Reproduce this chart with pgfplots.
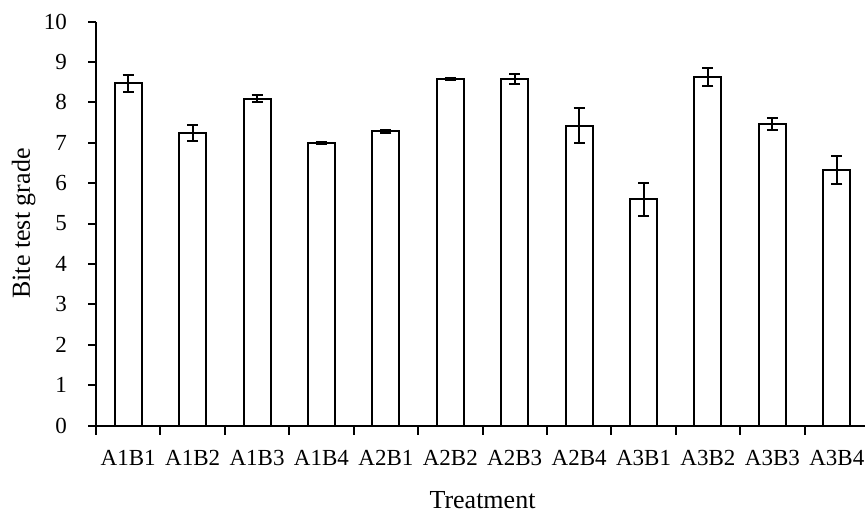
\documentclass[border=0pt]{standalone}
\usepackage{pgfplots}
\pgfplotsset{compat=1.18}
\usepackage{pgfplotstable}
\usepackage{fontspec}
\setmainfont{Liberation Serif}

\pgfplotstableread{
x  y     e
0  8.47  0.21
1  7.23  0.20
2  8.09  0.08
3  7.00  0.02
4  7.28  0.03
5  8.57  0.03
6  8.57  0.12
7  7.42  0.43
8  5.60  0.41
9  8.62  0.22
10 7.47  0.15
11 6.33  0.34
}\bitetest

\begin{document}
\begin{tikzpicture}
\useasboundingbox (-48pt,-42.75pt) rectangle (384.5pt,212.75pt);
\begin{axis}[
    scale only axis,
    width=386.5pt, height=202pt,
    xmin=-0.5, xmax=11.5,
    ymin=0, ymax=10,
    axis x line*=bottom,
    axis y line*=left,
    axis line style={-, line width=1pt},
    tick align=outside,
    major tick length=4pt,
    minor tick length=4.5pt,
    tick style={line width=1pt, black},
    xtick={0,1,...,11},
    major x tick style={draw=none},
    minor xtick={-0.5,0.5,...,11.5},
    xticklabels={A1B1,A1B2,A1B3,A1B4,A2B1,A2B2,A2B3,A2B4,A3B1,A3B2,A3B3,A3B4},
    ytick={0,1,...,10},
    tick label style={font=\fontsize{11.5}{13}\selectfont},
    xticklabel style={yshift=-5pt},
    yticklabel style={xshift=-7pt},
    /pgf/number format/assume math mode=true,
    xlabel={Treatment},
    ylabel={Bite test grade},
    label style={font=\fontsize{13}{15}\selectfont},
    xlabel style={at={(axis description cs:0.5,-0.2042)}, anchor=base},
    ylabel style={at={(axis description cs:-0.0854,0.5)}, anchor=base},
]
\addplot[ybar, bar width=13.5pt, fill=white, draw=black, line width=1pt,
    error bars/.cd, y dir=both, y explicit,
    error bar style={line width=1pt, black},
    error mark options={rotate=90, mark size=2.75pt, line width=1pt, black}]
    table[x=x, y=y, y error=e] {\bitetest};
\end{axis}
\end{tikzpicture}
\end{document}
